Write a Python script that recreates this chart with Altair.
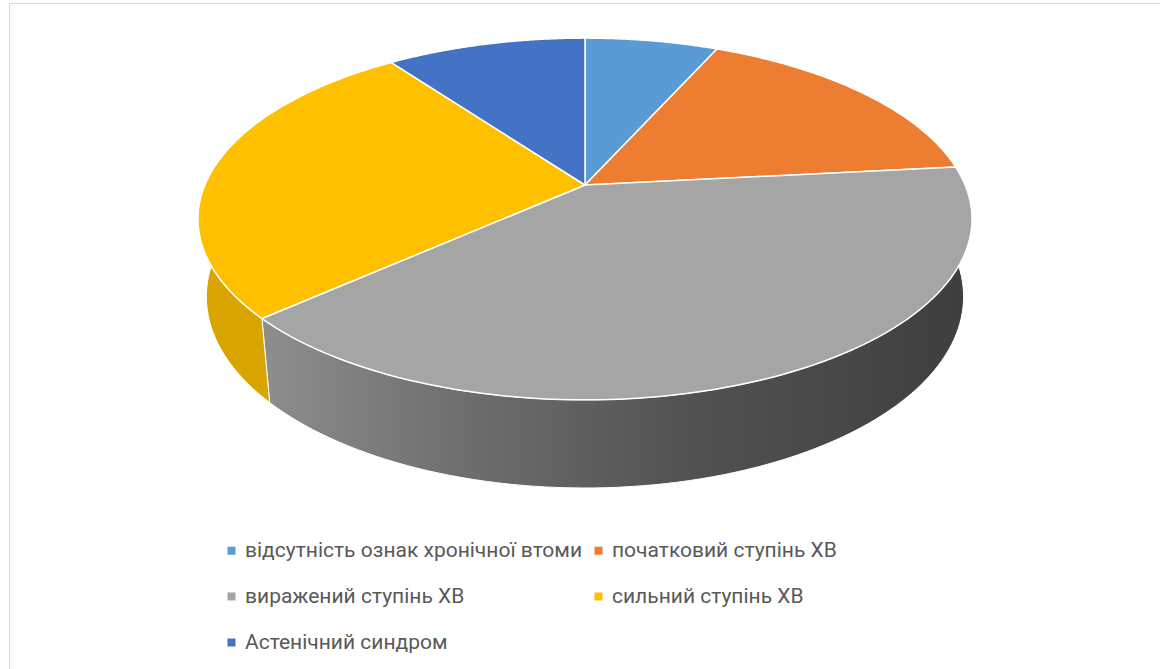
import altair as alt
import pandas as pd

# ---- data ----
categories = [
    "відсутність ознак хронічної втоми",
    "початковий ступінь ХВ",
    "виражений ступінь ХВ",
    "сильний ступінь ХВ",
    "Астенічний синдром",
]
counts = [2, 5, 12, 8, 3]
top_colors = ["#5B9BD5", "#ED7D31", "#A5A5A5", "#FFC000", "#4472C4"]
side_colors = ["#4A84B9", "#CB6A28", "#6E6E6E", "#D9A300", "#3A62A8"]

df = pd.DataFrame({"category": categories, "count": counts, "idx": list(range(len(counts)))})

# ---- 3-D projection parameters (layout only) ----
CX, CY = 585, 185          # projected pie centre (page px)
FX, FY = 1805, 1837        # focal scale
R, D = 1.121, 5.323        # disk radius, camera distance
S, C = 0.451, 0.892        # sin / cos of tilt
H = 0.2537                 # disk thickness
N = 90                     # points per arc


def den(phi, yw):
    return f"({D} + {R}*cos({phi})*{C} - ({yw})*{S})"


def proj_x(phi, yw):
    return f"({CX} + {FX}*{R}*sin({phi}) / {den(phi, yw)})"


def proj_y(phi, yw):
    return f"({CY} - {FY}*(({yw})*{C} + {R}*cos({phi})*{S}) / {den(phi, yw)})"


xs = alt.Scale(domain=[9, 1160], nice=False, zero=False)
ys = alt.Scale(domain=[3, 669], nice=False, zero=False, reverse=True)

base = (
    alt.Chart(df)
    .transform_joinaggregate(total="sum(count)")
    .transform_window(cum="sum(count)", sort=[alt.SortField("idx")], frame=[None, 0])
    .transform_calculate(
        a0="2*PI*(datum.cum-datum.count)/datum.total",
        a1="2*PI*datum.cum/datum.total",
    )
)

# ---- side walls (front half only) ----
side = (
    base.transform_calculate(b0="max(datum.a0, PI/2)", b1="min(datum.a1, 3*PI/2)")
    .transform_filter("datum.b1 > datum.b0")
    .transform_calculate(k=f"sequence(0, {2 * N + 3})")
    .transform_flatten(["k"])
    .transform_calculate(
        bottom=f"datum.k > {N} && datum.k <= {2 * N + 1}",
        phi=(
            f"datum.k <= {N} ? datum.b0 + datum.k/{N}*(datum.b1-datum.b0) : "
            f"(datum.k <= {2 * N + 1} ? datum.b1 - (datum.k-{N + 1})/{N}*(datum.b1-datum.b0) : datum.b0)"
        ),
    )
    .transform_calculate(yw=f"datum.bottom ? -{H} : 0")
    .transform_calculate(px=proj_x("datum.phi", "datum.yw"), py=proj_y("datum.phi", "datum.yw"))
    .mark_line(stroke="white", strokeWidth=1, strokeJoin="round")
    .encode(
        x=alt.X("px:Q", scale=xs, axis=None),
        y=alt.Y("py:Q", scale=ys, axis=None),
        order=alt.Order("k:Q"),
        detail=alt.Detail("category:N"),
        fill=alt.condition(
            "datum.b1 - datum.b0 > 1.5",
            alt.value(
                alt.LinearGradient(
                    gradient="linear",
                    x1=0, x2=1, y1=0, y2=0,
                    stops=[
                        alt.GradientStop(color="#8e8e8e", offset=0),
                        alt.GradientStop(color="#6c6c6c", offset=0.3),
                        alt.GradientStop(color="#525252", offset=0.6),
                        alt.GradientStop(color="#3e3e3e", offset=1),
                    ],
                )
            ),
            alt.Fill("category:N", scale=alt.Scale(domain=categories, range=side_colors), legend=None),
        ),
    )
)

# ---- top face ----
top = (
    base.transform_calculate(k=f"sequence(0, {N + 3})")
    .transform_flatten(["k"])
    .transform_calculate(
        apex=f"datum.k == 0 || datum.k == {N + 2}",
        phi=f"datum.a0 + (clamp(datum.k, 1, {N + 1}) - 1)/{N}*(datum.a1-datum.a0)",
    )
    .transform_calculate(
        px=f"datum.apex ? {CX} : {proj_x('datum.phi', '0')}",
        py=f"datum.apex ? {CY} : {proj_y('datum.phi', '0')}",
    )
    .mark_line(stroke="white", strokeWidth=1.5, strokeJoin="round")
    .encode(
        x=alt.X("px:Q", scale=xs, axis=None),
        y=alt.Y("py:Q", scale=ys, axis=None),
        order=alt.Order("k:Q"),
        detail=alt.Detail("category:N"),
        fill=alt.Fill(
            "category:N",
            scale=alt.Scale(domain=categories, range=top_colors),
            sort=categories,
            legend=alt.Legend(
                title=None,
                orient="none",
                legendX=212,
                legendY=537,
                columns=2,
                direction="horizontal",
                symbolType="square",
                symbolSize=64,
                symbolStrokeWidth=0,
                labelFont="Roboto",
                labelFontSize=21,
                labelColor="#595959",
                labelLimit=0,
                labelOffset=3,
                rowPadding=24,
                columnPadding=5,
                padding=0,
            ),
        ),
    )
)

chart = (
    alt.layer(side, top)
    .resolve_scale(fill="independent")
    .properties(
        width=1151,
        height=666,
        padding={"left": 9, "top": 3, "right": 0, "bottom": 0},
        autosize=alt.AutoSizeParams(type="none"),
        background="white",
    )
    .configure_view(stroke="#d9d9d9", strokeWidth=1)
)

chart.save("out.html", embed_options={"renderer": "svg", "actions": False})
